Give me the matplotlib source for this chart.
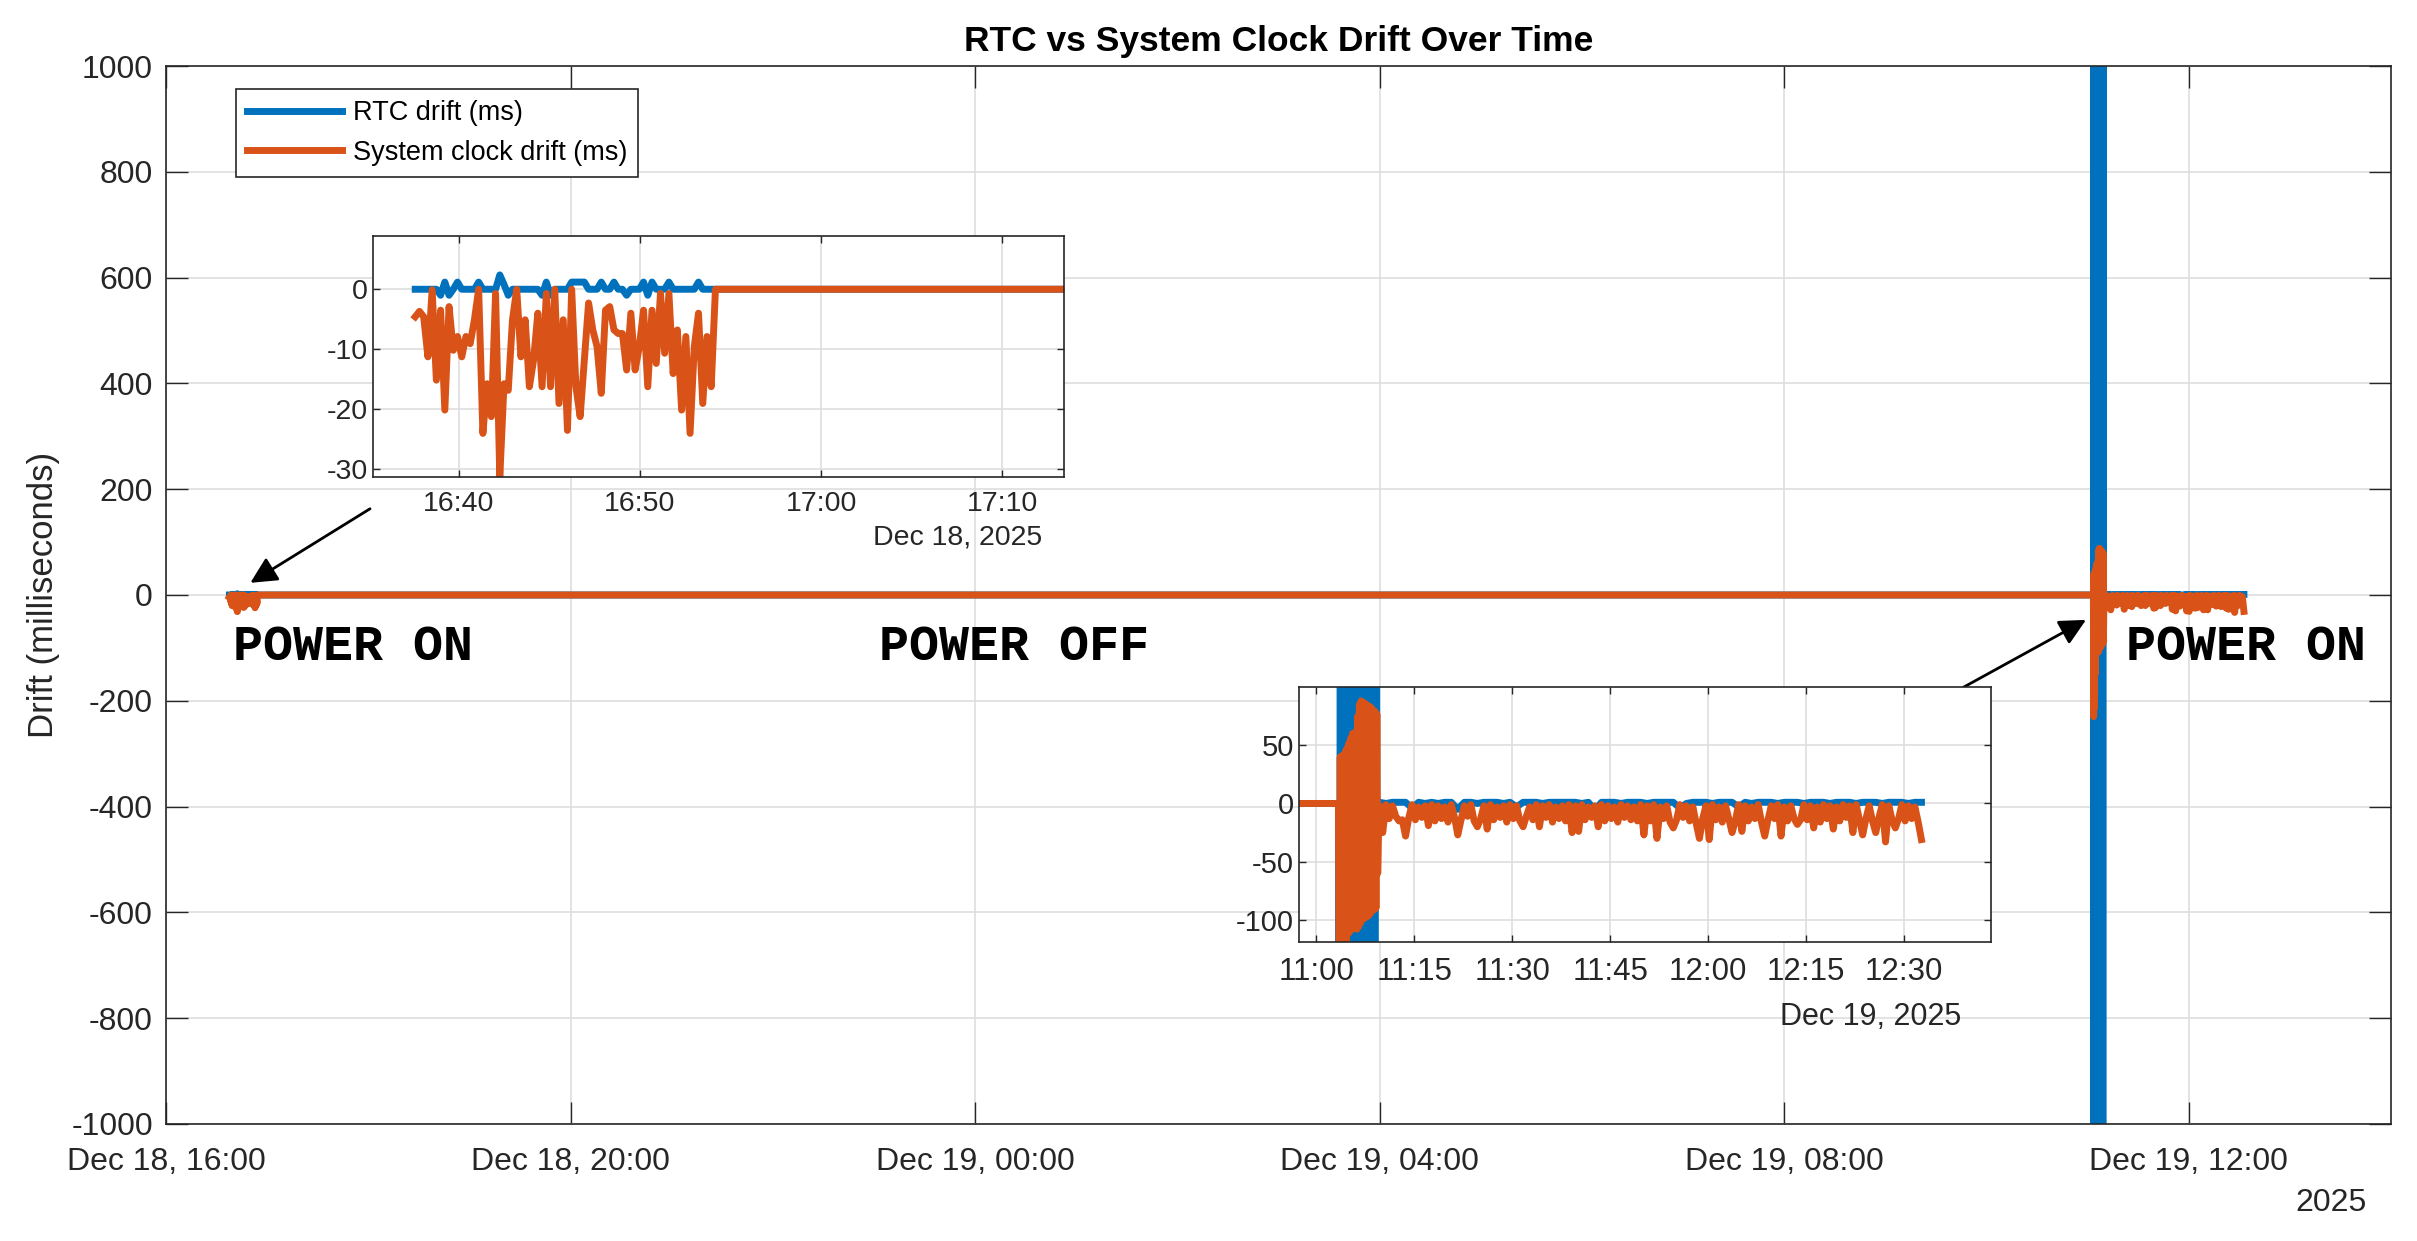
import matplotlib
matplotlib.use("Agg")
import matplotlib.pyplot as plt
import matplotlib.dates as mdates
import numpy as np
import pandas as pd

# ---------------------------------------------------------
# Data
# ---------------------------------------------------------
# first power-on window, Dec 18
seg1_start, seg1_end = "2025-12-18 16:37:36", "2025-12-18 16:54:10"
rtc_seg1 = [0, 0, 0, 0, 0, 0, -1, 1.2, -1, 0, 1.2, 0, 0, 0, 0, 1.2, 0, 0,
            0, 0, 2.4, 0.8, -1, 0, 0, 0, 0, 0, 0, 0, -1, 1.2, -1, 0, 0, 0,
            0, 1.2, 1.2, 1.2, 1.2, 0, 0, 0, 1.2, 0, 0, 1.2, 0, 0, -1, 0, 0, 0,
            1.2, -1, 1.2, 0, 0, 0, 1.2, 0, 0, 0, 0, 0, 0, 1.2, 0, 0, 0, 0]
sys_seg1 = [-4.6, -3.7, -4.6, -11.3, -0.1, -15.2, -3.5, -20.2, -2.9, -10.2,
            -7.9, -11.3, -7.9, -9.1, -5.1, 0, -24.1, -15.8, -21.3, -0.7,
            -31.4, -15.8, -16.9, -5.1, 0, -11.3, -5.1, -16.3, -11.8, -4,
            -16.3, -0.7, -16.3, 0, -19.1, -5.1, -23.6, 0, -16.3, -21.3,
            -11.8, -2.3, -6.8, -9.6, -17.4, -3.5, -2.9, -6.8, -7.4, -7.4,
            -13.5, -4, -13.5, -9.6, -3.5, -16.3, -3.5, -12.4, -0.7, -10.7,
            -0.7, -14.1, -6.8, -20.2, -7.9, -24.1, -9.6, -4, -19.1, -7.9,
            -16.3, 0]

# re-sync burst after power comes back, Dec 19
spike_start = "2025-12-19 11:03:24"
rtc_spike_end = "2025-12-19 11:09:16"
sys_spike_end = "2025-12-19 11:09:32"
rtc_spike = [0, -3500, 2800, -2600, 3200, -3000, 2500, -1900, 3400, -2200,
             2900, -2700, 3100, -2400, 2600, -3300, 3000, -2100, 2700, -2800,
             3300, -2500, 2400, -3100, 2900, -2000, 3200, -2600, 2800, -2300,
             3000, -2900, 2500, -2200, 2700, -2400, 3100, -2700, 2600, 0]
sys_spike = [0, -230, 40, -215, 41, -190, 42, -150, 45, -118,
             48, -112, 52, -110, 56, -108, 60, -106, 50, -107,
             62, -108, 75, -106, 85, -103, 88, -100, 87, -99,
             86, -98, 85, -97, 84, -96, 83, -94, 82, -92,
             80, -91, 79, -90, 77, -60, -25]

# steady running afterwards
steady_start, steady_end = "2025-12-19 11:09:40", "2025-12-19 12:32:40"
rtc_steady = [1, 0, 1, 1, 1, -4, 1, 0, 1, 0,
              1, 1, -5, 1, 1, 0, 1, 1, 1, 0,
              1, -3, 1, 1, 1, 0, 1, 1, 1, 1,
              1, 0, 1, -6, 1, 1, 1, 0, 1, 1,
              1, 0, 1, 1, 1, 1, -4, 0, 1, 1,
              1, 0, 1, 1, 1, -3, 1, 0, 1, 1,
              1, 0, 1, 1, 1, 0, 1, 1, 1, 0,
              1, 1, 1, 0, 1, 1, 1, 0, 1, 1,
              1, 0, 1, 1]
sys_steady = [-2, -25, -1, -13, -2, -11, -15, -14, -28, -12,
              -1, -14, -3, -12, -2, -19, -1, -15, -2, -13,
              -3, -16, -1, -12, -27, -14, -2, -11, -1, -15,
              -20, -13, -2, -22, -1, -14, -3, -12, -2, -16,
              -1, -13, -2, -15, -20, -11, -3, -14, -1, -20,
              -2, -12, -1, -16, -3, -13, -2, -15, -1, -25,
              -2, -24, -1, -14, -3, -12, -2, -20, -1, -15,
              -2, -13, -3, -16, -1, -12, -2, -14, -3, -15,
              -1, -27, -2, -15, -1, -30, -3, -13, -2, -16,
              -21, -14, -1, -12, -2, -15, -3, -17, -30, -13,
              -2, -31, -1, -14, -3, -16, -2, -13, -25, -15,
              -1, -24, -2, -15, -3, -13, -1, -16, -28, -14,
              -2, -13, -1, -28, -3, -15, -2, -13, -18, -14,
              -1, -14, -2, -21, -3, -16, -1, -13, -2, -22,
              -3, -15, -1, -12, -2, -25, -1, -14, -27, -13,
              -2, -15, -25, -12, -1, -33, -2, -14, -21, -13,
              -1, -15, -2, -13, -3, -16, -31]

BLUE = "#0072BD"
ORANGE = "#D95319"
INK = "#262626"


def stamps(start, end, n):
    return pd.date_range(start, end, periods=n)


t_rtc = np.concatenate([stamps(seg1_start, seg1_end, len(rtc_seg1)),
                        stamps(spike_start, rtc_spike_end, len(rtc_spike)),
                        stamps(steady_start, steady_end, len(rtc_steady))])
v_rtc = np.array(rtc_seg1 + rtc_spike + rtc_steady, dtype=float)
t_sys = np.concatenate([stamps(seg1_start, seg1_end, len(sys_seg1)),
                        stamps(spike_start, sys_spike_end, len(sys_spike)),
                        stamps(steady_start, steady_end, len(sys_steady))])
v_sys = np.array(sys_seg1 + sys_spike + sys_steady, dtype=float)

plt.rcParams['font.family'] = ['Liberation Sans', 'DejaVu Sans']
plt.rcParams['axes.unicode_minus'] = False


def matlab_style(ax, fs, ticklen):
    ax.grid(True, color="#dedede", lw=1.2)
    ax.set_axisbelow(True)
    ax.tick_params(direction='in', top=True, right=True, length=ticklen,
                   width=1.0, color=INK, labelcolor=INK, labelsize=fs)
    for s in ax.spines.values():
        s.set_color(INK)
        s.set_linewidth(1.2)


fig = plt.figure(figsize=(24.17, 12.41), dpi=100)
ax = fig.add_axes([0.0687, 0.0943, 0.9206, 0.8525])

ax.plot(t_rtc, v_rtc, color=BLUE, lw=5, label="RTC drift (ms)")
ax.plot(t_sys, v_sys, color=ORANGE, lw=5, label="System clock drift (ms)")
ax.set_xlim(pd.Timestamp("2025-12-18 16:00"), pd.Timestamp("2025-12-19 14:00"))
ax.set_ylim(-1000, 1000)
ax.set_yticks(np.arange(-1000, 1001, 200))
ax.xaxis.set_major_locator(mdates.HourLocator(byhour=[0, 4, 8, 12, 16, 20]))
ax.xaxis.set_major_formatter(mdates.DateFormatter("%b %d, %H:%M"))
matlab_style(ax, 23, 16)
ax.tick_params(axis='x', pad=16.5)
ax.tick_params(axis='y', pad=9.5)
ax.set_ylabel("Drift (milliseconds)", fontsize=25, color=INK, labelpad=8)
ax.set_title("RTC vs System Clock Drift Over Time", fontsize=25.5,
             fontweight='bold', pad=11)
ax.text(0.989, -0.075, "2025", transform=ax.transAxes, ha='right',
        va='center', fontsize=23, color=INK)

leg = ax.legend(loc='upper left', bbox_to_anchor=(0.0315, 0.978),
                borderaxespad=0, fontsize=19.5, handlelength=3.5,
                handletextpad=0.4, labelspacing=0.5, borderpad=0.4,
                fancybox=False, framealpha=1, edgecolor=INK)
leg.get_frame().set_linewidth(1.2)

mono = dict(family='Liberation Mono', fontweight='bold', fontsize=36,
            color='black', va='center')
ax.text(pd.Timestamp("2025-12-18 16:40"), -98, "POWER ON", **mono)
ax.text(pd.Timestamp("2025-12-18 23:03"), -98, "POWER OFF", **mono)
ax.text(pd.Timestamp("2025-12-19 11:23"), -98, "POWER ON", **mono)

arrow = dict(arrowstyle='-|>', color='black', lw=2, mutation_scale=40,
             shrinkA=0, shrinkB=0)
ax.annotate("", xy=(pd.Timestamp("2025-12-18 16:50"), 23),
            xytext=(pd.Timestamp("2025-12-18 18:01"), 163), arrowprops=arrow)
ax.annotate("", xy=(pd.Timestamp("2025-12-19 10:59"), -47),
            xytext=(pd.Timestamp("2025-12-19 09:26"), -210), arrowprops=arrow)

# inset 1: first power-on window
ax1 = fig.add_axes([0.1543, 0.6156, 0.2859, 0.1942])
ax1.plot(t_rtc, v_rtc, color=BLUE, lw=5)
ax1.plot(t_sys, v_sys, color=ORANGE, lw=5)
ax1.set_xlim(pd.Timestamp("2025-12-18 16:35:16"), pd.Timestamp("2025-12-18 17:13:24"))
ax1.set_ylim(-31.4, 8.9)
ax1.set_yticks([-30, -20, -10, 0])
ax1.xaxis.set_major_locator(mdates.MinuteLocator(byminute=[0, 10, 20, 30, 40, 50]))
ax1.xaxis.set_major_formatter(mdates.DateFormatter("%H:%M"))
matlab_style(ax1, 20.5, 5)
ax1.tick_params(axis='x', pad=10)
ax1.text(0.968, -0.25, "Dec 18, 2025", transform=ax1.transAxes, ha='right',
         va='center', fontsize=20.5, color=INK)

# inset 2: power back on
ax2 = fig.add_axes([0.5374, 0.2409, 0.2863, 0.2055])
ax2.plot(t_rtc, v_rtc, color=BLUE, lw=5)
ax2.plot(t_sys, v_sys, color=ORANGE, lw=5)
ax2.set_xlim(pd.Timestamp("2025-12-19 10:57:20"), pd.Timestamp("2025-12-19 12:43:18"))
ax2.set_ylim(-119, 100)
ax2.set_yticks([-100, -50, 0, 50])
ax2.xaxis.set_major_locator(mdates.MinuteLocator(byminute=[0, 15, 30, 45]))
ax2.xaxis.set_major_formatter(mdates.DateFormatter("%H:%M"))
matlab_style(ax2, 21, 5)
ax2.tick_params(axis='x', labelsize=22.5, pad=11)
ax2.text(0.957, -0.294, "Dec 19, 2025", transform=ax2.transAxes, ha='right',
         va='center', fontsize=22, color=INK)

fig.savefig("out.png", dpi=100)
